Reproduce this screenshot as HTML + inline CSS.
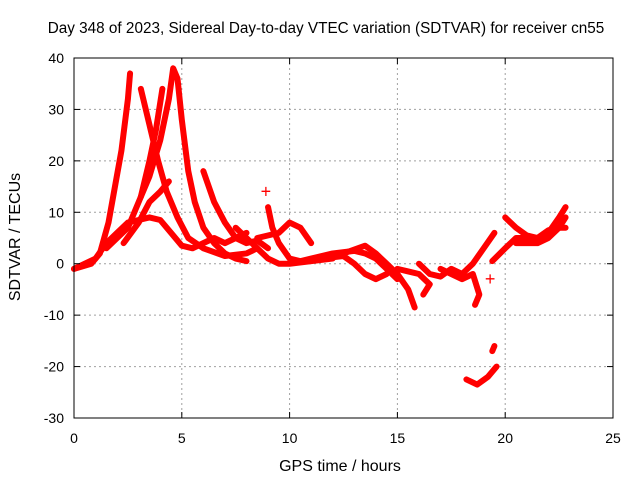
<!DOCTYPE html>
<html><head><meta charset="utf-8"><style>
body{margin:0;background:#fff}
svg text{font-family:"Liberation Sans",sans-serif;font-size:14px;fill:#000}
</style></head><body>
<svg width="640" height="480" xmlns="http://www.w3.org/2000/svg">
<g id="grid"></g>
<g id="series"></g>
<rect x="74" y="58" width="539" height="360" fill="none" stroke="#000" stroke-width="1"/>
<g id="ticks"></g>
<text x="326" y="33" text-anchor="middle" style="font-size:15.3px">Day 348 of 2023, Sidereal Day-to-day VTEC variation (SDTVAR) for receiver cn55</text>
<text x="340" y="471" text-anchor="middle" style="font-size:16px">GPS time / hours</text>
<text transform="translate(20,237) rotate(-90)" text-anchor="middle" style="font-size:16px">SDTVAR / TECUs</text>
</svg>
<script>
const xTicks=[0,5,10,15,20,25];
const yTicks=[-30,-20,-10,0,10,20,30,40];
const track1=[[0,-1],[0.8,0],[1.2,2],[1.6,8],[1.9,15],[2.2,22],[2.5,32],[2.6,37]];
const track2=[[0,-1],[1,1],[1.5,4],[2,6],[2.5,8],[3,8.5],[3.5,9],[4,8.5],[4.5,6],[5,3.5],[5.5,3],[6,4],[6.5,5],[7,4],[7.5,5],[8,6]];
const track3=[[1.5,3],[2.5,7],[3,12],[3.5,17],[4,24],[4.4,32],[4.6,38],[4.8,36],[5,28],[5.3,18],[5.6,12],[6,7],[6.5,4],[7,2],[7.5,1],[8,0.5]];
const track4=[[3.1,34],[3.5,27],[3.9,20],[4.3,14],[4.8,9],[5.3,5],[6,3],[7,1.5],[8,2],[8.5,3]];
const track5=[[3.1,13],[3.5,20],[3.8,26],[4.1,34]];
const track6=[[2.3,4],[3,8],[3.5,12],[4,14],[4.4,16]];
const track7=[[6,18],[6.5,12],[7,8],[7.5,5],[8,4],[8.5,4.5],[9,3]];
const track8=[[7.5,7],[8,5],[8.5,3],[9,1],[9.5,0],[10,0],[11,0.5],[12,1]];
const track9=[[8.5,5],[9.5,6],[10,8],[10.5,7],[11,4]];
const track10=[[9,11],[9.2,7],[9.5,4],[10,1],[10.5,0.5],[11,1],[12,2],[13,2.5],[13.5,2],[14,1],[14.5,-1],[15,-3]];
const track11=[[11.5,1],[12.5,1.5],[13,0],[13.5,-2],[14,-3],[14.5,-2]];
const track12=[[12.5,2],[13.5,3.5],[14,2],[14.5,0],[15,-2],[15.5,-5],[15.8,-8.5]];
const track13=[[15,-1],[15.5,-1.5],[16,-2],[16.5,-4],[16.2,-6]];
const track14=[[16,0],[16.5,-2],[17,-2.5],[17.5,-1],[18,-2],[18.5,0],[19,3],[19.5,6]];
const track15=[[17,-1],[18,-3],[18.5,-2],[18.8,-6],[18.6,-8]];
const track16=[[19.5,-16],[19.4,-17]];
const track17=[[18.2,-22.5],[18.7,-23.5],[19.2,-22],[19.6,-20]];
const track18=[[19.4,0.5],[20,3],[20.5,5],[21,5],[21.5,5],[22,6],[22.5,9],[22.8,11]];
const track19=[[20,9],[20.5,7],[21,5.5],[21.5,5],[22,6.5],[22.5,7],[22.8,7]];
const track20=[[20.5,4],[21.5,4],[22,5],[22.5,7],[22.8,9]];
const isolated=[[8.9,14],[19.3,-3]];
const tracks=[track1,track2,track3,track4,track5,track6,track7,track8,track9,track10,track11,track12,track13,track14,track15,track16,track17,track18,track19,track20];
const NS='http://www.w3.org/2000/svg';
const X0=74,X1=613,Y0=418,Y1=58;
function sx(v){return X0+(v-0)/(25-0)*(X1-X0);}
function sy(v){return Y0-(v+30)/(70)*(Y0-Y1);}
const grid=document.getElementById('grid'),ticks=document.getElementById('ticks'),ser=document.getElementById('series');
function mk(tag,at,parent){const e=document.createElementNS(NS,tag);for(const k in at)e.setAttribute(k,at[k]);parent.appendChild(e);return e;}
xTicks.forEach(t=>{
  const x=sx(t);
  if(t>0&&t<25){const g=mk('line',{x1:x,x2:x,y1:Y1,y2:Y0,stroke:'#a0a0a0','stroke-dasharray':'2,3'},grid);
  
  }
  mk('line',{x1:x,x2:x,y1:Y0,y2:Y0-6,stroke:'#000'},ticks);
  mk('line',{x1:x,x2:x,y1:Y1,y2:Y1+6,stroke:'#000'},ticks);
  const l=mk('text',{x:x,y:Y0+25,'text-anchor':'middle'},ticks);l.textContent=t;
  
  
});
yTicks.forEach(t=>{
  const y=sy(t);
  if(t>-30&&t<40){const g=mk('line',{x1:X0,x2:X1,y1:y,y2:y,stroke:'#a0a0a0','stroke-dasharray':'2,3'},grid);
  
  }
  mk('line',{x1:X0,x2:X0+6,y1:y,y2:y,stroke:'#000'},ticks);
  mk('line',{x1:X1,x2:X1-6,y1:y,y2:y,stroke:'#000'},ticks);
  const l=mk('text',{x:X0-10,y:y+5,'text-anchor':'end'},ticks);l.textContent=t;
  
  
});
tracks.forEach(tr=>{
  const p=mk('polyline',{points:tr.map(d=>sx(d[0])+','+sy(d[1])).join(' '),fill:'none',stroke:'#ff0000','stroke-width':6,'stroke-linejoin':'round','stroke-linecap':'round'},ser);
  
  
});
isolated.forEach(d=>{
  const t=mk('text',{x:sx(d[0]),y:sy(d[1])+6,'text-anchor':'middle',style:'fill:#f00;font-size:18px'},ser);t.textContent='+';
  
  
});
</script>
</body></html>
